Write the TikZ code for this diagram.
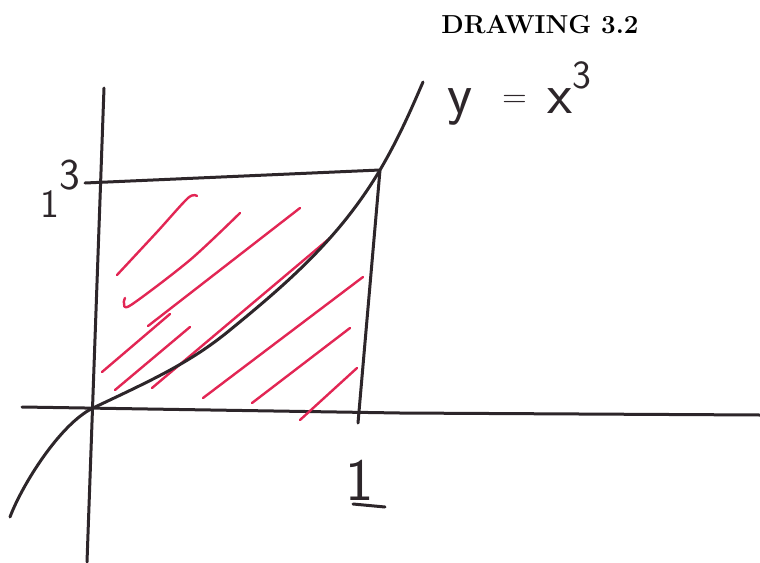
\documentclass[tikz,border=0pt]{standalone}
\usepackage{fontspec}
\definecolor{ink}{RGB}{45,38,42}
\definecolor{redpen}{RGB}{226,38,84}
\tikzset{
  pen/.style={draw=ink, line width=3pt, line cap=round, line join=round},
  hatch/.style={draw=redpen, line width=2.4pt, line cap=round, line join=round},
  hand/.style={text=ink, inner sep=0pt, font=\sffamily}
}
\begin{document}
\begin{tikzpicture}[x=1pt,y=-1pt]
\useasboundingbox (0,0) rectangle (760,562);
% title
\node[inner sep=0pt, font=\fontsize{26}{30}\selectfont\bfseries] (title) at (540,25) {DRAWING 3.2};
% axes
\coordinate (xl) at (22,407);
\coordinate (xr) at (760,415);
\coordinate (yt) at (104,88);
\coordinate (yb) at (87,562);
\draw[pen] (xl) -- (400,413) -- (xr);
\draw[pen] (yt) -- (yb);
% box
\coordinate (tl) at (85,183);
\coordinate (tr) at (380,170);
\coordinate (br) at (358,423);
\draw[pen] (tl) -- (tr) -- (br);
% hatching
\draw[hatch] plot[smooth] coordinates {(117,275) (157,232) (188,198) (197,196)};
\draw[hatch] plot[smooth] coordinates {(125,298) (124,303) (131,305) (190,260) (240,213)};
\draw[hatch] (102,372) -- (170,314);
\draw[hatch] (148,326) -- (300,208);
\draw[hatch] (115,390) -- (190,327);
\draw[hatch] (152,388) -- (330,238);
\draw[hatch] (203,398) -- (363,277);
\draw[hatch] (252,403) -- (350,328);
\draw[hatch] (300,420) -- (357,368);
% curve y = x^3
\coordinate (cs) at (10,517);
\coordinate (o) at (93,408);
\coordinate (cm) at (230,330);
\coordinate (ce) at (423,82);
\draw[pen] (cs) .. controls (22,485) and (60,424) .. (o)
  .. controls (150,381) and (190,363) .. (cm)
  .. controls (290,281) and (340,237) .. (tr)
  .. controls (400,136) and (413,105) .. (ce);
% labels
\node[hand, anchor=base west, font=\fontsize{40}{44}\sffamily] (lab13) at (40,217) {1\raisebox{28pt}{\fontsize{44}{48}\selectfont 3}};
\node[hand, anchor=base west, font=\fontsize{58}{62}\sffamily] (labcurve) at (447,113) {y\hspace{30pt}\raisebox{6pt}{\fontsize{34}{36}\selectfont =}\hspace{20pt}x\raisebox{25pt}{\fontsize{40}{44}\selectfont 3}};
\node[hand, anchor=base, font=\fontsize{60}{62}\sffamily] (labone) at (360,500) {1};
\draw[pen] (353,504) -- (385,507);
\end{tikzpicture}
\end{document}
